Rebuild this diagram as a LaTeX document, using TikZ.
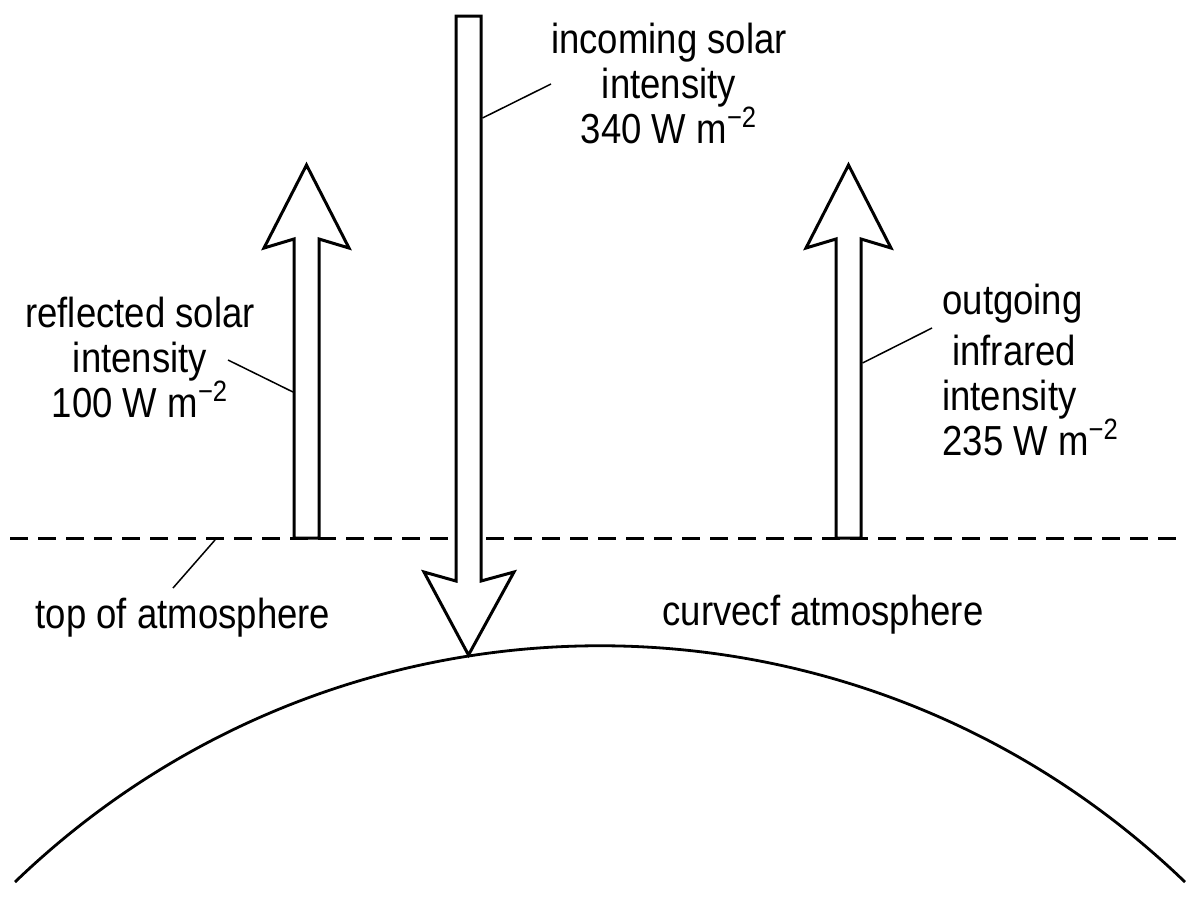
\documentclass[tikz,border=0pt]{standalone}
\usepackage{fontspec}
\setmainfont{Liberation Sans}[FakeStretch=0.87]
\usetikzlibrary{calc}
\usetikzlibrary{positioning}
\tikzset{
  blockarrow/.style={draw, fill=white, line width=1.5pt, line join=miter},
  leader/.style={draw, line width=0.75pt},
  lbl/.style={font=\fontsize{21}{22.5}\selectfont, inner sep=0pt, align=center},
}

\begin{document}
\begin{tikzpicture}[x=0.5pt, y=-0.5pt]
  \useasboundingbox (0,0) rectangle (1200,896);

  % top of atmosphere and surface
  \coordinate (toa-l) at (10,538);
  \coordinate (toa-r) at (1185,538);
  \draw[line width=1.5pt, dash pattern=on 9pt off 5pt] (toa-l) -- (toa-r);
  \coordinate (e-l) at (15,882);
  \coordinate (e-r) at (1185,882);
  \draw[line width=1.4pt] (e-l) .. controls (342,567) and (858,567) .. (e-r);

  % block arrows
  \draw[blockarrow] (456,16) -- (481,16) -- (481,581) -- (514,572) -- (468.5,655)
    -- (424,572) -- (456,581) -- cycle;
  \foreach \cx in {306.5,848.5}
    \draw[blockarrow] (\cx-12.5,538) -- (\cx-12.5,239) -- (\cx-42.5,248) -- (\cx,165)
      -- (\cx+42.5,248) -- (\cx+12.5,239) -- (\cx+12.5,538) -- cycle;

  % labels (base = last line)
  \node[lbl, anchor=base] (incoming) at (669,143) {incoming solar\\intensity\\340 W m\textsuperscript{−2}};
  \node[lbl, anchor=base] (reflected) at (140,417) {reflected solar\\intensity\\100 W m\textsuperscript{−2}};
  \node[lbl, anchor=base west, align=left] (outgoing) at (942,455)
    {outgoing\\[3pt]\hspace*{5pt}infrared\\intensity\\235 W m\textsuperscript{−2}};
  \node[lbl, anchor=base] (toa) at (183,628) {top of atmosphere};
  \node[lbl, anchor=base] (curve) at (823,625) {curvecf atmosphere};

  % leader lines
  \coordinate (incoming-a) at (482.5,118);
  \coordinate (incoming-t) at (551,84);
  \draw[leader] (incoming-a) -- (incoming-t);
  \coordinate (reflected-a) at (293,392);
  \coordinate (reflected-t) at (228,360);
  \draw[leader] (reflected-a) -- (reflected-t);
  \coordinate (outgoing-a) at (862.5,363);
  \coordinate (outgoing-t) at (932,328);
  \draw[leader] (outgoing-a) -- (outgoing-t);
  \coordinate (toa-a) at (215,540);
  \coordinate (toa-t) at (173,588);
  \draw[leader] (toa-a) -- (toa-t);
\end{tikzpicture}
\end{document}
